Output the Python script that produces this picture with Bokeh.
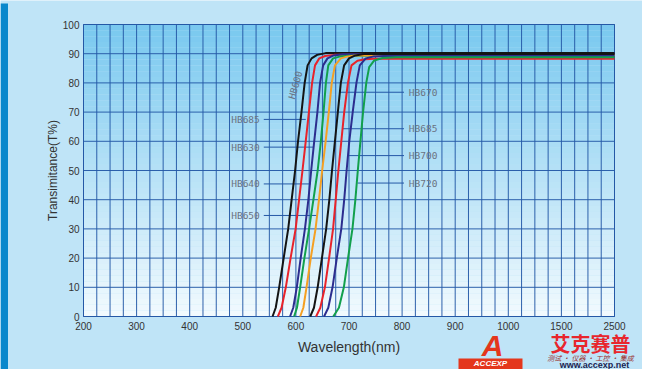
import numpy as np
from bokeh.plotting import figure
from bokeh.models import Range1d, FixedTicker
from bokeh.core.properties import value
from bokeh.embed import file_html
from bokeh.resources import INLINE

# ---- axis: real wavelength ticks and their (equally spaced) plotted positions
wl_ticks = [200, 300, 400, 500, 600, 700, 800, 900, 1000, 1500, 2500]
tick_labels = ["200", "300", "400", "500", "600", "700", "800", "900", "1000", "1500", "2500"]
pos_ticks = [200, 300, 400, 500, 600, 700, 800, 900, 1000, 1100, 1200]
y_ticks = [0, 10, 20, 30, 40, 50, 60, 70, 80, 90, 100]


def xmap(w):
    return np.interp(w, wl_ticks, pos_ticks)


# ---- curves (wavelength nm, transmittance %)
hb600_wl = [556, 562, 568.5, 577, 585.5, 592, 598.5, 604, 610.5, 616.5, 622, 629.5, 640, 656, 1000, 1500, 2500]
hb600_t = [0, 3, 10, 20, 30, 40, 50, 60, 70, 80, 86, 88.4, 89.6, 90.2, 90.2, 90.2, 90.2]

hb615_wl = [566, 573, 581, 590, 599.5, 606, 612.4, 618.5, 624.5, 630.5, 636, 644, 655, 672, 1000, 1500, 2500]
hb615_t = [0, 3, 10, 20, 30, 40, 50, 60, 70, 80, 86, 88.4, 89.2, 89.6, 89.6, 89.6, 89.6]

hb630_wl = [589, 595, 601.7, 609, 617, 623.5, 628.8, 634.5, 640.5, 645.5, 651.3, 659.5, 671, 688, 1000, 1500, 2500]
hb630_t = [0, 3, 10, 20, 30, 40, 50, 60, 70, 80, 86, 88.4, 89.4, 89.8, 89.8, 89.8, 89.8]

hb640_wl = [596.6, 602, 608, 616, 624.8, 633, 641, 647, 652, 656.5, 661, 670, 682, 700, 1000, 1500, 2500]
hb640_t = [0, 3, 10, 20, 30, 40, 50, 60, 70, 80, 86, 88.4, 89.0, 89.3, 89.3, 89.3, 89.3]

hb650_wl = [608, 614, 620, 628, 637, 643.5, 649.5, 656, 662, 667.5, 673.5, 684.6, 696, 712, 1000, 1500, 2500]
hb650_t = [0, 3, 10, 20, 30, 40, 50, 60, 70, 80, 86, 88.4, 89.0, 89.4, 89.4, 89.4, 89.4]

hb670_wl = [627, 634, 641, 649, 657, 663, 668, 673.5, 679, 684.6, 690.8, 700, 712, 728, 1000, 1500, 2500]
hb670_t = [0, 3, 10, 20, 30, 40, 50, 60, 70, 80, 86, 88.4, 89.4, 89.9, 89.9, 89.9, 89.9]

hb685_wl = [638, 646, 654.6, 662.5, 670, 675, 680, 685.5, 691, 698, 704.7, 716, 730, 748, 1000, 1500, 2500]
hb685_t = [0, 3, 10, 20, 30, 40, 50, 60, 70, 80, 86, 87.6, 88.1, 88.3, 88.3, 88.3, 88.3]

hb700_wl = [653, 661, 669, 677, 685.5, 691, 695.5, 700.5, 707, 714, 720.3, 731.6, 745, 765, 1000, 1500, 2500]
hb700_t = [0, 3, 10, 20, 30, 40, 50, 60, 70, 80, 86, 88.4, 89.0, 89.2, 89.2, 89.2, 89.2]

hb720_wl = [670.4, 681, 690.3, 698.2, 706.5, 712, 716.6, 721.5, 726.5, 732.5, 738, 747.6, 763, 790, 1000, 1500, 2500]
hb720_t = [0, 3, 10, 20, 30, 40, 50, 60, 70, 80, 85.4, 87.7, 88.5, 88.8, 88.8, 88.8, 88.8]

curves = [
    (hb600_wl, hb600_t, "#141414"),
    (hb615_wl, hb615_t, "#e8232a"),
    (hb630_wl, hb630_t, "#2c2d8e"),
    (hb640_wl, hb640_t, "#12a04c"),
    (hb650_wl, hb650_t, "#f5a023"),
    (hb670_wl, hb670_t, "#141414"),
    (hb685_wl, hb685_t, "#e8232a"),
    (hb700_wl, hb700_t, "#2c2d8e"),
    (hb720_wl, hb720_t, "#12a04c"),
]

# ---- callout labels
left_names = ["HB685", "HB630", "HB640", "HB650"]
left_t = [67.5, 58.0, 45.4, 34.6]
left_end_wl = [618.6, 634.0, 628.0, 640.7]
right_names = ["HB670", "HB685", "HB700", "HB720"]
right_t = [76.8, 64.3, 55.1, 45.7]
right_start_wl = [681.4, 687.8, 697.2, 716.0]
left_text_wl = 532
left_line_wl = 539.5
right_line_wl = 803.6
right_text_wl = 812.6
rot_name = "HB600"
rot_wl = 599
rot_t = 79.3

LINE = "#2458a6"
TXT = "#333333"
LBL = "#6a7282"

# ---- layout: the frame covers the whole card; the chart box sits at px 83..614 x 24..316
PX = 1000.0 / 531.0   # plotted x units per pixel
PY = 100.0 / 292.0    # % per pixel


def at_px(px, py):
    return 200 + (px - 83) * PX, (316 - py) * PY


p = figure(width=642, height=369,
           x_range=Range1d(200 - 83 * PX, 1200 + 28 * PX),
           y_range=Range1d(-53 * PY, 316 * PY),
           output_backend="svg", toolbar_location=None,
           min_border_left=0, min_border_right=0, min_border_top=0, min_border_bottom=0)
p.border_fill_color = "#bfe4f7"
p.background_fill_color = "#bfe4f7"
p.outline_line_color = None
p.grid.visible = False

# dark strip on the left edge of the card
sx0, sy0 = at_px(0, 3)
sx1, _ = at_px(7.5, 3)
p.quad(left=sx0, right=sx1, bottom=-53 * PY, top=sy0, fill_color="#0a88cc", line_color=None)

# vertical gradient background of the chart box
top_c = np.array([120, 200, 239])
bot_c = np.array([242, 250, 254])
nb = 50
bb = np.linspace(0, 100, nb + 1)
cols = []
for i in range(nb):
    f = (bb[i] + bb[i + 1]) / 200.0
    c = bot_c + (top_c - bot_c) * f
    cols.append("#%02x%02x%02x" % tuple(int(round(v)) for v in c))
p.quad(left=200, right=1200, bottom=bb[:-1], top=bb[1:], fill_color=cols, line_color=None)

# grid lines (every 25 nm-step horizontally, every 10 % vertically) and box
gx = np.arange(200, 1201, 25)
p.segment(x0=gx, y0=0, x1=gx, y1=100, line_color=LINE, line_width=1, line_alpha=0.95)
gy = np.array(y_ticks)
p.segment(x0=200, y0=gy, x1=1200, y1=gy, line_color=LINE, line_width=1, line_alpha=0.95)
p.quad(left=200, right=1200, bottom=0, top=100, fill_color=None, line_color=LINE, line_width=1)

# axes pinned to the chart box
p.xaxis.fixed_location = 0
p.xaxis.bounds = (200, 1200)
p.yaxis.fixed_location = 200
p.yaxis.bounds = (0, 100)
p.xaxis.ticker = FixedTicker(ticks=pos_ticks)
p.xaxis.major_label_overrides = {pt: lb for pt, lb in zip(pos_ticks, tick_labels)}
p.yaxis.ticker = FixedTicker(ticks=y_ticks)
for ax in (p.xaxis, p.yaxis):
    ax.axis_line_color = None
    ax.major_tick_line_color = None
    ax.minor_tick_line_color = None
    ax.major_tick_out = 0
    ax.major_tick_in = 0
    ax.minor_tick_out = 0
    ax.minor_tick_in = 0
    ax.major_label_text_font = "Liberation Sans"
    ax.major_label_text_font_size = "10px"
    ax.major_label_text_color = TXT
    ax.axis_label_text_font = "Liberation Sans"
    ax.axis_label_text_font_style = "normal"
    ax.axis_label_text_color = TXT
p.xaxis.major_label_standoff = 5
p.yaxis.major_label_standoff = 4
p.xaxis.axis_label = "Wavelength(nm)"
p.xaxis.axis_label_text_font_size = "14px"
p.xaxis.axis_label_standoff = 6
p.yaxis.axis_label = "Transimitance(T%)"
p.yaxis.axis_label_text_font_size = "12px"
p.yaxis.axis_label_standoff = 0

# callout lines
for t, e in zip(left_t, left_end_wl):
    p.line(xmap([left_line_wl, e]), [t, t], line_color=LINE, line_width=1)
for t, s in zip(right_t, right_start_wl):
    p.line(xmap([s, right_line_wl]), [t, t], line_color=LINE, line_width=1)

# curves
for wl, t, c in curves:
    p.line(xmap(wl), t, line_color=c, line_width=2, line_join="round")

# label texts
lab_font = value("DejaVu Sans Mono")
p.text(x=list(xmap([left_text_wl] * len(left_t))), y=left_t, text=left_names, text_align="right",
       text_baseline="middle", text_font=lab_font, text_font_size="9.5px", text_color=LBL)
p.text(x=list(xmap([right_text_wl] * len(right_t))), y=right_t, text=right_names, text_align="left",
       text_baseline="middle", text_font=lab_font, text_font_size="9.5px", text_color=LBL)
p.text(x=[float(xmap(rot_wl))], y=[rot_t], text=[rot_name], angle=74, angle_units="deg",
       text_align="center", text_baseline="middle", text_font=lab_font, text_font_size="9.5px",
       text_color=LBL)

# brand mark at the bottom right of the card
bl, bt = at_px(458, 358)
br, bbm = at_px(522, 368.5)
p.quad(left=bl, right=br, bottom=bbm, top=bt, fill_color="#e4361c", line_color=None)
brand = [
    ((492, 345), "A", "Liberation Sans", "30px", "bold italic", "#e4361c"),
    ((490, 363), "ACCEXP", "Liberation Sans", "8px", "bold italic", "#ffffff"),
    ((590, 343), "艾克赛普", "Noto Sans CJK SC", "20px", "bold", "#e8262d"),
    ((590, 357.5), "测试 · 仪器 · 工控 · 集成", "Noto Sans CJK SC", "7px", "italic", "#9a3030"),
    ((594, 364), "www.accexp.net", "Liberation Sans", "9px", "bold", "#1b2552"),
]
for (bpx, bpy), btxt, bfont, bsize, bstyle, bcol in brand:
    bx, by = at_px(bpx, bpy)
    p.text(x=[bx], y=[by], text=[btxt], text_align="center", text_baseline="middle",
           text_font=value(bfont), text_font_size=bsize, text_font_style=bstyle, text_color=bcol)

open("out.html", "w").write(file_html(p, INLINE))
